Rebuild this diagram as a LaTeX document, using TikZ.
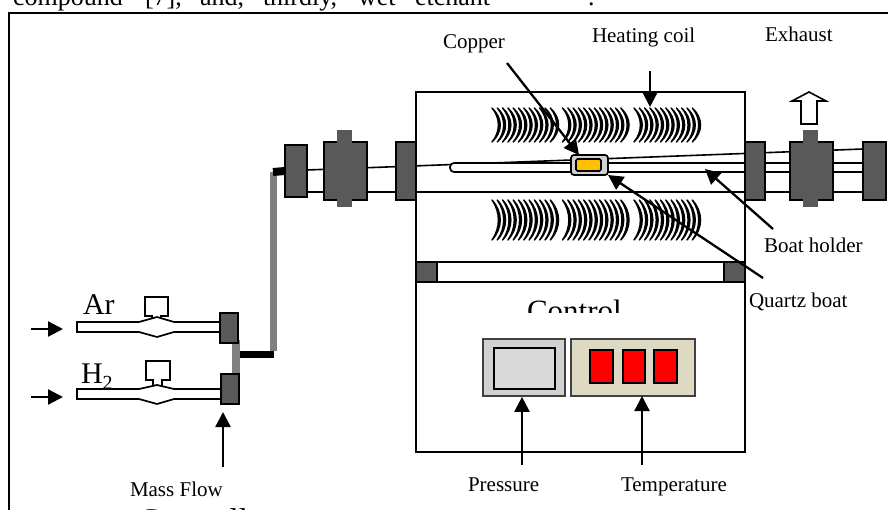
\documentclass[tikz,border=0pt]{standalone}
\usepackage{fontspec}
\setmainfont{Liberation Serif}
\usetikzlibrary{arrows.meta}
\tikzstyle{block} = [draw=black, rectangle, line width=1.7pt, inner sep=0pt, outer sep=0pt]
\tikzstyle{flange} = [block, fill=black!65]
\tikzstyle{nub} = [rectangle, fill=black!65, inner sep=0pt, outer sep=0pt]
\tikzstyle{tube} = [draw=black, line width=1.7pt, fill=white]
\tikzstyle{tag} = [inner sep=0pt, outer sep=0pt, anchor=base west, font=\fontsize{21}{21}\selectfont]
\tikzstyle{gasTag} = [tag, font=\fontsize{30}{30}\selectfont]
\tikzstyle{bodyWord} = [tag, font=\fontsize{26}{26}\selectfont]
\tikzstyle{flowArrow} = [line width=2.3pt, -{Triangle[length=15pt,width=15pt]}]
\tikzstyle{coilTurn} = [draw=black, fill=black, line width=1.4pt, line join=round]
\definecolor{copperFill}{HTML}{FFC000}
\definecolor{panelFill}{HTML}{DDD9C3}
\begin{document}
\begin{tikzpicture}[x=1pt,y=-1pt]
		\useasboundingbox (0,0) rectangle (888,510);
		\clip (0,0) rectangle (888,510);
		%page text and frame
		\node[bodyWord] (w1) at (13,6) {compound};
		\node[bodyWord] (w2) at (145,6) {[7],};
		\node[bodyWord] (w3) at (200,6) {and,};
		\node[bodyWord] (w4) at (263,6) {thirdly,};
		\node[bodyWord] (w5) at (358,6) {wet};
		\node[bodyWord] (w6) at (415,6) {etchant};
		\node[bodyWord] (w7) at (588,6) {.};
		\draw[line width=1.8pt] (9,520) -- (9,13) -- (890,13);

		%furnace
		\node[block, fill=white, minimum width=329pt, minimum height=100pt] (upper) at (580.5,142) {};
		\node[block, fill=white, minimum width=329pt, minimum height=70pt] (middle) at (580.5,227) {};
		\node[block, fill=white, minimum width=329pt, minimum height=20pt] (strip) at (580.5,272) {};
		\node[flange, minimum width=21pt, minimum height=20pt] (footL) at (426.5,272) {};
		\node[flange, minimum width=21pt, minimum height=20pt] (footR) at (734.5,272) {};
		\node[block, fill=white, minimum width=329pt, minimum height=170pt] (control) at (580.5,367) {};

		%coils
		\foreach \y/\h in {108/34,200/40}
			\foreach \x in {492,562.5,634}
				\foreach \n in {0,...,11}
					\draw[coilTurn] (\x+\n*5.3,\y) .. controls (\x+\n*5.3+11,\y+\h*0.3) and (\x+\n*5.3+11,\y+\h*0.7) .. (\x+\n*5.3,\y+\h) .. controls (\x+\n*5.3+8.5,\y+\h*0.7) and (\x+\n*5.3+8.5,\y+\h*0.3) .. cycle;

		%tube
		\coordinate (tubeTopL) at (307,170);
		\coordinate (tubeTopR) at (863,149);
		\coordinate (tubeLowL) at (307,192);
		\coordinate (tubeLowR) at (863,192);
		\draw[line width=1.6pt] (tubeTopL) -- (tubeTopR);
		\draw[line width=1.6pt] (tubeLowL) -- (tubeLowR);
		\node[draw=black, line width=1.7pt, fill=white, rounded corners=4pt, inner sep=0pt, minimum width=420pt, minimum height=9pt] (holder) at (660,167.5) {};
		\node[draw=black, line width=1.7pt, fill=black!18, rounded corners=3pt, inner sep=0pt, outer sep=0pt, minimum width=37pt, minimum height=20pt] (boat) at (589.5,165) {};
		\node[draw=black, line width=1.7pt, fill=copperFill, rounded corners=1.5pt, inner sep=0pt, minimum width=25pt, minimum height=12pt] (copper) at (588.5,165) {};

		%flanges
		\node[flange, minimum width=22pt, minimum height=52pt] (flange1) at (296,171) {};
		\node[flange, minimum width=43pt, minimum height=58pt] (flange2) at (345.5,171) {};
		\node[nub, minimum width=15pt, minimum height=77pt] (nub2) at (344.5,168.5) {};
		\node[flange, minimum width=20pt, minimum height=58pt] (flange3) at (406,171) {};
		\node[flange, minimum width=20pt, minimum height=58pt] (flange4) at (755,171) {};
		\node[flange, minimum width=43pt, minimum height=58pt] (flange5) at (811.5,171) {};
		\node[nub, minimum width=15pt, minimum height=77pt] (nub5) at (810.5,168.5) {};
		\node[flange, minimum width=23pt, minimum height=58pt] (flange6) at (874.5,171) {};

		%gas lines
		\draw[tube] (77,322) -- (139,322) -- (157,317) -- (174,322) -- (220,322) -- (220,332) -- (174,332) -- (157,337) -- (139,332) -- (77,332) -- cycle;
		\draw[tube] (77,389) -- (139,389) -- (157,385) -- (174,389) -- (221,389) -- (221,399) -- (174,399) -- (157,404) -- (139,399) -- (77,399) -- cycle;
		\draw[line width=1.7pt] (152,319) -- (152,316) -- (145,316) -- (145,297) -- (168,297) -- (168,316) -- (161,316) -- (161,319);
		\draw[line width=1.7pt] (153,386) -- (153,380) -- (146,380) -- (146,361) -- (170,361) -- (170,380) -- (162,380) -- (162,386);
		\draw[line width=8pt, black!50] (236,340) -- (236,378);
		\node[flange, minimum width=18pt, minimum height=30pt] (arFlow) at (229,328) {};
		\node[flange, minimum width=18pt, minimum height=30pt] (hFlow) at (230,389) {};
		\coordinate (elbow) at (273.5,354.5);
		\coordinate (riser) at (273.5,172);
		\draw[line width=7pt, black!50] ([yshift=3.5pt]elbow) -- (riser);
		\draw[line width=7pt, black] (240,354.5) -- (elbow);
		\draw[line width=8pt, black] (273,172) -- (flange1.west);

		%panel
		\node[draw=black!75, line width=1.7pt, fill=black!18, inner sep=0pt, minimum width=82pt, minimum height=57pt] (pressure) at (524,367.5) {};
		\node[block, fill=black!15, minimum width=61pt, minimum height=41pt] (dial) at (524.5,368.5) {};
		\node[draw=black!75, line width=1.7pt, fill=panelFill, inner sep=0pt, outer sep=0pt, minimum width=124pt, minimum height=57pt] (temperature) at (633,367.5) {};
		\node[block, fill=red, minimum width=23pt, minimum height=33pt] (led1) at (601.5,366.5) {};
		\node[block, fill=red, minimum width=22pt, minimum height=33pt] (led2) at (634,366.5) {};
		\node[block, fill=red, minimum width=23pt, minimum height=33pt] (led3) at (665.5,366.5) {};

		%exhaust
		\draw[draw=black, line width=1.6pt, fill=white] (809,92) -- (826,101) -- (817,101) -- (817,124) -- (801,124) -- (801,101) -- (792,101) -- cycle;

		%labels
		\begin{scope}
			\clip (416,290) rectangle (745,313);
			\node[tag, font=\fontsize{31}{31}\selectfont] (controlLabel) at (527,321) {Control};
		\end{scope}
		\node[gasTag] (arLabel) at (83,315) {Ar};
		\node[gasTag] (hLabel) at (81,383) {H\raisebox{-6pt}{\fontsize{20}{20}\selectfont 2}};
		\node[tag] (copperLabel) at (443,49) {Copper};
		\node[tag] (coilLabel) at (592,43) {Heating coil};
		\node[tag] (exhaustLabel) at (765,42) {Exhaust};
		\node[tag] (holderLabel) at (764,253) {Boat holder};
		\node[tag] (boatLabel) at (749,308) {Quartz boat};
		\node[tag] (pressureLabel) at (468,491) {Pressure};
		\node[tag] (temperatureLabel) at (621,491) {Temperature};
		\node[tag] (flowLabel) at (130,496) {Mass Flow};
		\node[tag, font=\fontsize{33}{33}\selectfont] (controllerLabel) at (138,531.3) {Controller};

		%arrows
		\coordinate (copperFrom) at (507,63);
		\coordinate (coilFrom) at (650,71);
		\coordinate (coilTo) at (650,107);
		\coordinate (holderFrom) at (773,229);
		\coordinate (holderTo) at (705,169);
		\coordinate (boatFrom) at (763,278);
		\coordinate (pressureFrom) at (522,465);
		\coordinate (temperatureFrom) at (642,465);
		\coordinate (flowFrom) at (223,467);
		\coordinate (flowTo) at (223,412);
		\coordinate (arFrom) at (31,329);
		\coordinate (arTo) at (63,329);
		\coordinate (hFrom) at (31,397);
		\coordinate (hTo) at (63,397);
		\draw[flowArrow] (copperFrom) -- ([xshift=8pt]boat.north west);
		\draw[flowArrow] (coilFrom) -- (coilTo);
		\draw[flowArrow] (holderFrom) -- (holderTo);
		\draw[flowArrow] (boatFrom) -- (boat.south east);
		\draw[flowArrow] (pressureFrom) -- ([xshift=-2pt]pressure.south);
		\draw[flowArrow] (temperatureFrom) -- ([xshift=9pt]temperature.south);
		\draw[flowArrow] (flowFrom) -- (flowTo);
		\draw[flowArrow] (arFrom) -- (arTo);
		\draw[flowArrow] (hFrom) -- (hTo);
	\end{tikzpicture}
\end{document}
